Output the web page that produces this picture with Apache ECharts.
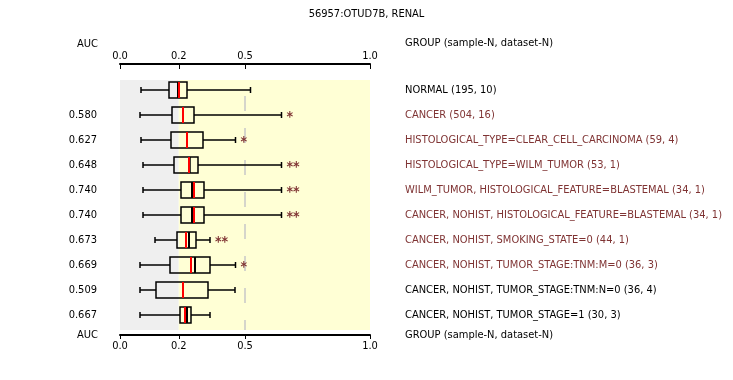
<!DOCTYPE html>
<html>
<head>
<meta charset="utf-8">
<script src="https://cdn.jsdelivr.net/npm/echarts@6/dist/echarts.min.js"></script>
<style>html,body{margin:0;padding:0;background:#fff}#c{width:733px;height:380px}</style>
</head>
<body>
<div id="c"></div>
<script>
var titleText = '56957:OTUD7B, RENAL';
var groups = [
  'NORMAL (195, 10)',
  'CANCER (504, 16)',
  'HISTOLOGICAL_TYPE=CLEAR_CELL_CARCINOMA (59, 4)',
  'HISTOLOGICAL_TYPE=WILM_TUMOR (53, 1)',
  'WILM_TUMOR, HISTOLOGICAL_FEATURE=BLASTEMAL (34, 1)',
  'CANCER, NOHIST, HISTOLOGICAL_FEATURE=BLASTEMAL (34, 1)',
  'CANCER, NOHIST, SMOKING_STATE=0 (44, 1)',
  'CANCER, NOHIST, TUMOR_STAGE:TNM:M=0 (36, 3)',
  'CANCER, NOHIST, TUMOR_STAGE:TNM:N=0 (36, 4)',
  'CANCER, NOHIST, TUMOR_STAGE=1 (30, 3)'
];
var aucValues   = ['', '0.580', '0.627', '0.648', '0.740', '0.740', '0.673', '0.669', '0.509', '0.667'];
var significant = [false, true, true, true, true, true, true, true, false, false];
var stars       = ['', '*', '*', '**', '**', '**', '**', '*', '', ''];
var whiskerLow  = [0.084, 0.080, 0.084, 0.092, 0.092, 0.092, 0.140, 0.080, 0.080, 0.080];
var q1          = [0.196, 0.208, 0.204, 0.216, 0.244, 0.244, 0.228, 0.200, 0.144, 0.240];
var median      = [0.232, 0.252, 0.268, 0.279, 0.288, 0.288, 0.276, 0.300, 0.252, 0.268];
var redLine     = [0.236, 0.252, 0.268, 0.276, 0.296, 0.296, 0.264, 0.284, 0.252, 0.260];
var q3          = [0.268, 0.296, 0.332, 0.312, 0.336, 0.336, 0.304, 0.360, 0.352, 0.284];
var whiskerHigh = [0.522, 0.646, 0.462, 0.646, 0.646, 0.646, 0.360, 0.462, 0.460, 0.360];
var tickValues  = [0, 0.235, 0.5, 1.0];
var tickLabels  = ['0.0', '0.2', '0.5', '1.0'];
var bandSplit   = 0.235;
var refLine     = 0.5;
var headerLeft  = 'AUC';
var headerRight = 'GROUP (sample-N, dataset-N)';

var FONT = '"DejaVu Sans Condensed", "Liberation Sans Narrow", sans-serif';
var SIGC = '#7f3333';

var rowIdx = groups.map(function (g, i) { return i; });
var boxData = rowIdx.map(function (i) {
  return [i, whiskerLow[i], q1[i], median[i], redLine[i], q3[i], whiskerHigh[i]];
});

function tickLabel(v) {
  for (var k = 0; k < tickValues.length; k++) {
    if (Math.abs(v - tickValues[k]) < 1e-6) return tickLabels[k];
  }
  return '';
}

function renderBox(params, api) {
  var i = api.value(0);
  var y = api.coord([0, i])[1];
  var px = function (k) { return api.coord([api.value(k), i])[0]; };
  var xl = px(1), xq1 = px(2), xm = px(3), xr = px(4), xq3 = px(5), xh = px(6);
  var h = 16, cap = 3;
  var ls = { stroke: '#000', lineWidth: 1.5, fill: null };
  var children = [
    { type: 'line', shape: { x1: xl, y1: y, x2: xq1, y2: y }, style: ls },
    { type: 'line', shape: { x1: xq3, y1: y, x2: xh, y2: y }, style: ls },
    { type: 'line', shape: { x1: xl, y1: y - cap, x2: xl, y2: y + cap }, style: ls },
    { type: 'line', shape: { x1: xh, y1: y - cap, x2: xh, y2: y + cap }, style: ls },
    { type: 'rect', shape: { x: xq1, y: y - h / 2, width: xq3 - xq1, height: h }, style: ls },
    { type: 'line', shape: { x1: xm, y1: y - h / 2, x2: xm, y2: y + h / 2 }, style: { stroke: '#000', lineWidth: 2 } },
    { type: 'line', shape: { x1: xr, y1: y - h / 2, x2: xr, y2: y + h / 2 }, style: { stroke: '#ff0000', lineWidth: 2 } }
  ];
  if (stars[i]) {
    children.push({
      type: 'text',
      style: { text: stars[i], x: xh + 5, y: y + 2, fill: SIGC, font: 'bold 14px ' + FONT, textAlign: 'left', textVerticalAlign: 'middle' }
    });
  }
  return { type: 'group', children: children };
}

var axisCommon = {
  type: 'value', min: 0, max: 1, gridIndex: 0, z: 10,
  splitLine: { show: false },
  axisLine: { show: true, onZero: false, lineStyle: { color: '#000', width: 2 } }
};

var option = {
  animation: false,
  backgroundColor: '#fff',
  textStyle: { fontFamily: FONT },
  title: {
    text: titleText, left: 'center', top: 4,
    textStyle: { fontSize: 11, fontWeight: 'normal', color: '#000', fontFamily: FONT }
  },
  grid: { left: 120, right: 363, top: 80, bottom: 50, containLabel: false },
  xAxis: [
    Object.assign({}, axisCommon, {
      position: 'top', offset: 16,
      axisTick: { show: true, inside: true, length: 5, lineStyle: { color: '#000', width: 1 }, customValues: tickValues },
      axisLabel: { customValues: tickValues, formatter: tickLabel, margin: 2, fontSize: 11, color: '#000', fontFamily: FONT }
    }),
    Object.assign({}, axisCommon, {
      position: 'bottom', offset: 5,
      axisTick: { show: true, inside: false, length: 4, lineStyle: { color: '#000', width: 1 }, customValues: tickValues },
      axisLabel: { customValues: tickValues, formatter: tickLabel, margin: 6, fontSize: 11, color: '#000', fontFamily: FONT }
    })
  ],
  yAxis: [
    {
      type: 'value', inverse: true, min: -0.4, max: 9.6, position: 'left',
      splitLine: { show: false }, axisLine: { show: false }, axisTick: { show: false },
      axisLabel: {
        customValues: rowIdx, margin: 23, fontSize: 11, color: '#000', fontFamily: FONT,
        formatter: function (v) { return aucValues[Math.round(v)] || ''; }
      }
    },
    {
      type: 'value', inverse: true, min: -0.4, max: 9.6, position: 'right',
      splitLine: { show: false }, axisLine: { show: false }, axisTick: { show: false },
      axisLabel: {
        customValues: rowIdx, margin: 35, align: 'left', fontSize: 11, fontFamily: FONT,
        formatter: function (v) {
          var i = Math.round(v);
          return '{' + (significant[i] ? 's' : 'n') + '|' + groups[i] + '}';
        },
        rich: {
          s: { color: SIGC, fontSize: 11, fontFamily: FONT },
          n: { color: '#000', fontSize: 11, fontFamily: FONT }
        }
      }
    }
  ],
  graphic: [
    { type: 'text', left: 77, top: 39, style: { text: headerLeft, fill: '#000', font: '11px ' + FONT } },
    { type: 'text', left: 405, top: 38, style: { text: headerRight, fill: '#000', font: '11px ' + FONT } },
    { type: 'text', left: 77, top: 330, style: { text: headerLeft, fill: '#000', font: '11px ' + FONT } },
    { type: 'text', left: 405, top: 330, style: { text: headerRight, fill: '#000', font: '11px ' + FONT } }
  ],
  series: [
    {
      type: 'line', data: [], xAxisIndex: 0, yAxisIndex: 0, z: 1, silent: true,
      markArea: {
        silent: true,
        data: [
          [{ xAxis: 0, itemStyle: { color: '#efefef' } }, { xAxis: bandSplit }],
          [{ xAxis: bandSplit, itemStyle: { color: '#ffffd5' } }, { xAxis: 1 }]
        ]
      },
      markLine: {
        silent: true, symbol: 'none', label: { show: false },
        lineStyle: { color: '#c8c8c8', width: 1.5, type: [15, 17], dashOffset: 16 },
        data: [{ xAxis: refLine }]
      }
    },
    {
      type: 'custom', xAxisIndex: 0, yAxisIndex: 0, z: 5,
      renderItem: renderBox,
      encode: { x: [1, 2, 3, 4, 5, 6], y: 0 },
      data: boxData
    }
  ]
};

var chart = echarts.init(document.getElementById('c'), null, { renderer: 'canvas' });
chart.setOption(option);
</script>
</body>
</html>
